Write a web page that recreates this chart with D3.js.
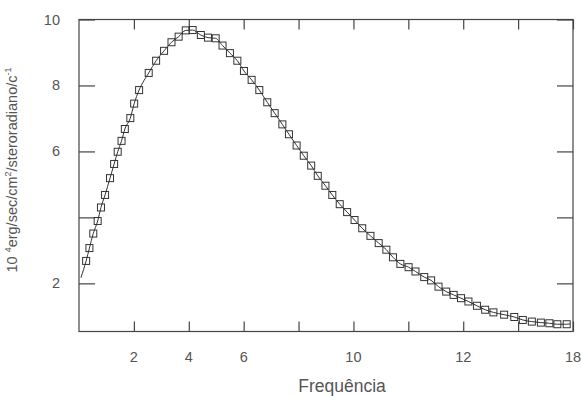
<!DOCTYPE html>
<html>
<head>
<meta charset="utf-8">
<script src="https://cdn.jsdelivr.net/npm/d3@7"></script>
<style>
  body { margin: 0; background: #fff; }
  text { font-family: "Liberation Sans", Arial, sans-serif; fill: #555; }
</style>
</head>
<body>
<svg width="582" height="396"></svg>
<script>
// pontos (frequência, intensidade)
const freq = [0.26, 0.38, 0.52, 0.68, 0.80, 0.95, 1.13, 1.28, 1.41, 1.55, 1.67, 1.87, 2.01, 2.19,
  2.54, 2.81, 3.10, 3.37, 3.63, 3.89, 4.14, 4.44, 4.70, 4.98, 5.23, 5.50, 5.77, 6.01, 6.29,
  6.57, 6.86, 7.13, 7.41, 7.65, 7.93, 8.19, 8.46, 8.70, 8.98, 9.23, 9.50, 9.77, 10.04, 10.32,
  10.62, 10.92, 11.20, 11.44, 11.71, 12.01, 12.26, 12.58, 12.83, 13.10, 13.38, 13.65, 13.92,
  14.19, 14.50, 14.80, 15.10, 15.49, 15.86, 16.17, 16.50, 16.83, 17.14, 17.43, 17.77];
const intens = [2.68, 3.07, 3.51, 3.89, 4.30, 4.68, 5.19, 5.62, 5.99, 6.32, 6.68, 7.01, 7.45, 7.86,
  8.38, 8.75, 9.05, 9.31, 9.48, 9.67, 9.68, 9.53, 9.45, 9.43, 9.21, 8.98, 8.75, 8.44, 8.17,
  7.86, 7.49, 7.16, 6.82, 6.52, 6.18, 5.87, 5.57, 5.26, 4.96, 4.68, 4.40, 4.16, 3.92, 3.67,
  3.44, 3.22, 3.02, 2.79, 2.59, 2.49, 2.36, 2.19, 2.09, 1.90, 1.75, 1.65, 1.55, 1.45,
  1.32, 1.20, 1.12, 1.05, 0.98, 0.89, 0.84, 0.81, 0.79, 0.76, 0.76];
// extremos da curva ajustada
const fitStart = [0.07, 2.17];
const fitEnd = [17.89, 0.77];

const xTicks = [2, 4, 6, 8, 10, 12, 14, 16, 18];
const xTickLabels = ["2", "4", "6", "", "10", "", "12", "", "18"];
const yTicks = [2, 4, 6, 8, 10];
const yTickLabels = ["2", "", "6", "8", "10"];

const svg = d3.select("svg");
const mLeft = 79, mRight = 573, mTop = 19.5, mBottom = 331.5;

const x = d3.scaleLinear().domain([0, 18]).range([mLeft, mRight]);
const y = d3.scaleLinear().domain([0.54, 10]).range([mBottom, mTop]);

const data = freq.map((f, i) => [f, intens[i]]);

// moldura
svg.append("rect")
  .attr("x", mLeft).attr("y", mTop)
  .attr("width", mRight - mLeft).attr("height", mBottom - mTop)
  .attr("fill", "none").attr("stroke", "#444").attr("stroke-width", 1.2);

// ticks para dentro
const ax = (g) => g.call(s => s.select(".domain").remove())
  .call(s => s.selectAll("line").attr("stroke", "#444").attr("stroke-width", 1.2));

svg.append("g").attr("transform", `translate(0,${mBottom})`)
  .call(d3.axisBottom(x).tickValues(xTicks).tickSize(-10).tickFormat(""))
  .call(ax);
svg.append("g").attr("transform", `translate(0,${mTop})`)
  .call(d3.axisTop(x).tickValues(xTicks).tickSize(-10).tickFormat(""))
  .call(ax);
svg.append("g").attr("transform", `translate(${mLeft},0)`)
  .call(d3.axisLeft(y).tickValues(yTicks).tickSize(-16).tickFormat(""))
  .call(ax);
svg.append("g").attr("transform", `translate(${mRight},0)`)
  .call(d3.axisRight(y).tickValues(yTicks).tickSize(-16).tickFormat(""))
  .call(ax);

// rótulos dos ticks
svg.selectAll(".xl").data(xTicks).join("text")
  .attr("x", d => x(d)).attr("y", 362)
  .attr("text-anchor", "middle").attr("font-size", 14.5)
  .text((d, i) => xTickLabels[i]);
svg.selectAll(".yl").data(yTicks).join("text")
  .attr("x", 60).attr("y", d => y(d) + 5)
  .attr("text-anchor", "end").attr("font-size", 14.5)
  .text((d, i) => yTickLabels[i]);

// curva
const line = d3.line().x(d => x(d[0])).y(d => y(d[1])).curve(d3.curveMonotoneX);
svg.append("path")
  .datum([fitStart, ...data, fitEnd])
  .attr("d", line)
  .attr("fill", "none").attr("stroke", "#333").attr("stroke-width", 1);

// marcadores
svg.selectAll(".pt").data(data).join("rect")
  .attr("x", d => x(d[0]) - 3.5).attr("y", d => y(d[1]) - 3.5)
  .attr("width", 7).attr("height", 7)
  .attr("fill", "none").attr("stroke", "#333").attr("stroke-width", 1);

// títulos
svg.append("text")
  .attr("x", 342).attr("y", 392)
  .attr("text-anchor", "middle").attr("font-size", 17.5)
  .text("Frequência");

const yl = svg.append("text")
  .attr("transform", "translate(17,170) rotate(-90)")
  .attr("text-anchor", "middle").attr("font-size", 14.5);
yl.append("tspan").text("10 ");
yl.append("tspan").attr("dy", -6).attr("font-size", 9).text("4");
yl.append("tspan").attr("dy", 6).text("erg/sec/cm");
yl.append("tspan").attr("dy", -6).attr("font-size", 9).text("2");
yl.append("tspan").attr("dy", 6).text("/steroradiano/c");
yl.append("tspan").attr("dy", -6).attr("font-size", 9).text("-1");
</script>
</body>
</html>
